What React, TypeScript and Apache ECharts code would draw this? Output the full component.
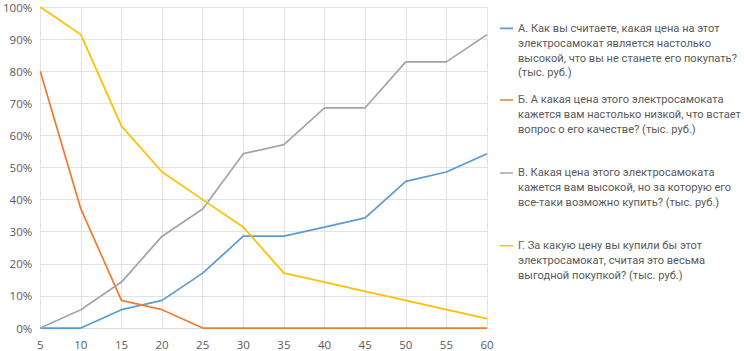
import React, { useEffect, useRef } from "react";
import * as echarts from "echarts";

const categories = ["5", "10", "15", "20", "25", "30", "35", "40", "45", "50", "55", "60"];
const seriesA = [0, 0, 5.7, 8.6, 17.1, 28.6, 28.6, 31.4, 34.3, 45.7, 48.6, 54.3];
const seriesB = [80, 37.1, 8.6, 5.7, 0, 0, 0, 0, 0, 0, 0, 0];
const seriesV = [0, 5.7, 14.3, 28.6, 37.1, 54.3, 57.1, 68.6, 68.6, 82.9, 82.9, 91.4];
const seriesG = [100, 91.4, 62.9, 48.6, 40, 31.4, 17.1, 14.3, 11.4, 8.6, 5.7, 2.9];

const names = [
  "А. Как вы считаете, какая цена на этот\nэлектросамокат является настолько\nвысокой, что вы не станете его покупать?\n(тыс. руб.)",
  "Б. А какая цена этого электросамоката\nкажется вам настолько низкой, что встает\nвопрос о его качестве? (тыс. руб.)",
  "В. Какая цена этого электросамоката\nкажется вам высокой, но за которую его\nвсе-таки возможно купить? (тыс. руб.)",
  "Г. За какую цену вы купили бы этот\nэлектросамокат, считая это весьма\nвыгодной покупкой? (тыс. руб.)",
];
const colors = ["#5B9BD5", "#ED7D31", "#A5A5A5", "#FFC000"];
const FONT = '"Open Sans", sans-serif';
const LFONT = 'Roboto, "Open Sans", sans-serif';

export default function App() {
  const ref = useRef<HTMLDivElement>(null);
  useEffect(() => {
    if (!ref.current) return;
    const chart = echarts.init(ref.current, null, { renderer: "svg" });
    const LH = 14.8;
    const legendTops = [21, 92.6, 165.6, 238.3];
    const legends = names.map((n, i) => {
      const lines = n.split("\n").length;
      const h = lines * LH;
      const c = LH / 2;
      return {
        show: true,
        orient: "vertical" as const,
        left: 500,
        top: legendTops[i],
        padding: 0,
        data: [n],
        itemWidth: 13,
        itemHeight: h,
        icon: `path://M0,0 L0.01,0 Z M0,${(c - 0.8).toFixed(2)} L13,${(c - 0.8).toFixed(2)} L13,${(c + 0.8).toFixed(2)} L0,${(c + 0.8).toFixed(2)} Z M0,${h.toFixed(2)} L0.01,${h.toFixed(2)} Z`,
        itemStyle: { borderWidth: 0 },
        selectedMode: false,
        textStyle: { fontFamily: LFONT, fontSize: 11.1, color: "#595959", lineHeight: LH },
      };
    });
    const data = [seriesA, seriesB, seriesV, seriesG];
    chart.setOption({
      animation: false,
      color: colors,
      grid: { left: 37, right: 257, top: 7, bottom: 23 },
      legend: legends,
      xAxis: {
        type: "category",
        data: categories,
        boundaryGap: false,
        axisLine: { lineStyle: { color: "#d9d9d9" } },
        axisTick: { show: false },
        axisLabel: { interval: 0, color: "#595959", fontFamily: FONT, fontSize: 11.5, margin: 10 },
        splitLine: { show: true, lineStyle: { color: "#e3e3e3" } },
      },
      yAxis: {
        type: "value",
        min: 0,
        max: 100,
        interval: 10,
        axisLine: { show: false },
        axisTick: { show: false },
        axisLabel: { formatter: "{value}%", color: "#595959", fontFamily: FONT, fontSize: 11.5, margin: 8 },
        splitLine: { lineStyle: { color: "#e3e3e3" } },
      },
      series: data.map((d, i) => ({
        name: names[i],
        type: "line",
        data: d,
        showSymbol: false,
        symbol: "none",
        lineStyle: { width: 1.75, color: colors[i] },
        itemStyle: { color: colors[i] },
      })),
    });
    return () => chart.dispose();
  }, []);
  return <div ref={ref} style={{ width: 744, height: 351, position: "absolute", left: 0, top: 0 }} />;
}
